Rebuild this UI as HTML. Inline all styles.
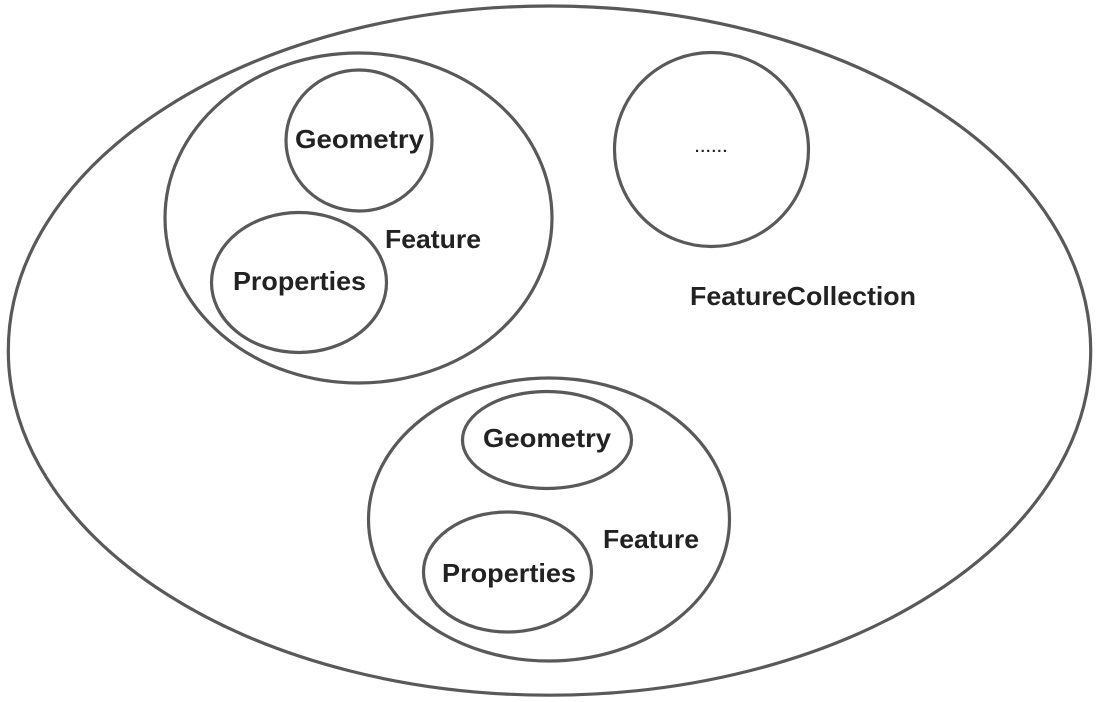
<!DOCTYPE html>
<html>
<head>
<meta charset="utf-8">
<style>
  html, body { margin: 0; padding: 0; background: #ffffff; }
  svg { display: block; }
  .s { fill: none; stroke: #595959; stroke-width: 3.2; }
  .t { font-family: "Liberation Sans", "DejaVu Sans", sans-serif; font-weight: bold; font-size: 26px; fill: #222222; }
</style>
</head>
<body>
<svg width="1104" height="702" viewBox="0 0 1104 702" xmlns="http://www.w3.org/2000/svg">
  <rect width="1104" height="702" fill="#ffffff"/>
  <!-- outer FeatureCollection -->
  <ellipse class="s" cx="549.5" cy="350.6" rx="541.2" ry="344.6"/>

  <!-- Feature 1 -->
  <ellipse class="s" cx="358.5" cy="218" rx="193.5" ry="165"/>
  <ellipse class="s" cx="359" cy="140.5" rx="73" ry="70.5"/>
  <ellipse class="s" cx="299" cy="282.5" rx="87.5" ry="70"/>
  <text class="t" x="295" y="148" textLength="129" lengthAdjust="spacingAndGlyphs">Geometry</text>
  <text class="t" x="385" y="248" textLength="96" lengthAdjust="spacingAndGlyphs">Feature</text>
  <text class="t" x="233" y="290" textLength="133" lengthAdjust="spacingAndGlyphs">Properties</text>

  <!-- ...... circle -->
  <ellipse class="s" cx="711.5" cy="149.5" rx="97" ry="97"/>
  <text x="695" y="152" font-family="Liberation Sans, sans-serif" font-size="15" font-weight="bold" fill="#222" textLength="32" lengthAdjust="spacing">......</text>

  <text class="t" x="690" y="305" textLength="226" lengthAdjust="spacingAndGlyphs">FeatureCollection</text>

  <!-- Feature 2 -->
  <ellipse class="s" cx="549" cy="519.5" rx="180.5" ry="141.5"/>
  <ellipse class="s" cx="547" cy="440" rx="84.5" ry="48.5"/>
  <ellipse class="s" cx="507.5" cy="572" rx="84" ry="60"/>
  <text class="t" x="483" y="447" textLength="128" lengthAdjust="spacingAndGlyphs">Geometry</text>
  <text class="t" x="603" y="548" textLength="96" lengthAdjust="spacingAndGlyphs">Feature</text>
  <text class="t" x="442" y="582" textLength="134" lengthAdjust="spacingAndGlyphs">Properties</text>
</svg>
</body>
</html>
